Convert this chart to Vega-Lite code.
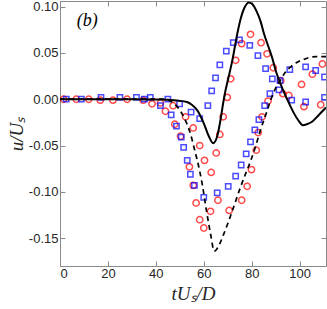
{
  "$schema": "https://vega.github.io/schema/vega-lite/v6.json",
  "width": 266,
  "height": 265,
  "autosize": {"type": "none"},
  "padding": {"left": 60, "top": 1, "right": 1, "bottom": 43},
  "background": "white",
  "config": {
    "view": {"stroke": "#8a8a8a", "strokeWidth": 1},
    "axis": {
      "grid": false,
      "domain": false,
      "tickColor": "#8a8a8a",
      "tickSize": -5,
      "labelFont": "Liberation Sans",
      "labelFontSize": 13,
      "labelColor": "#262626",
      "titleFont": "Liberation Serif",
      "titleFontStyle": "italic",
      "titleFontWeight": "normal",
      "titleFontSize": 19,
      "titleColor": "#262626"
    }
  },
  "datasets": {
    "circles": [
      {"t":1.5,"u":0},{"t":6.8,"u":0},{"t":12.0,"u":0},{"t":16.8,"u":-0.001},{"t":22.1,"u":-0.001},{"t":28.0,"u":0},{"t":34.7,"u":-0.001},{"t":38.4,"u":-0.005},{"t":41.9,"u":-0.004},{"t":44.0,"u":-0.013},{"t":47.2,"u":-0.007},{"t":47.9,"u":-0.027},{"t":50.3,"u":-0.040},{"t":52.4,"u":-0.019},{"t":54.0,"u":-0.073},{"t":55.6,"u":-0.031},{"t":55.6,"u":-0.093},{"t":56.8,"u":-0.112},{"t":58.3,"u":-0.050},{"t":58.3,"u":-0.130},{"t":60.0,"u":-0.139},{"t":60.3,"u":-0.066},{"t":63.1,"u":-0.079},{"t":62.8,"u":-0.121},{"t":65.2,"u":-0.058},{"t":65.9,"u":-0.109},{"t":66.7,"u":-0.038},{"t":68.1,"u":-0.019},{"t":69.8,"u":0.002},{"t":70.6,"u":-0.120},{"t":71.2,"u":0.022},{"t":73.3,"u":0.042},{"t":75.8,"u":0.060},{"t":75.8,"u":-0.109},{"t":78.1,"u":-0.094},{"t":79.5,"u":0.070},{"t":79.9,"u":-0.076},{"t":81.9,"u":-0.055},{"t":82.7,"u":-0.036},{"t":83.9,"u":0.061},{"t":84.3,"u":-0.019},{"t":86.4,"u":0.049},{"t":86.8,"u":-0.002},{"t":89.0,"u":0.034},{"t":92.1,"u":0.020},{"t":93.0,"u":0.006},{"t":95.5,"u":0.004},{"t":100.8,"u":0.016},{"t":101.8,"u":-0.008},{"t":105.3,"u":0.027},{"t":108.8,"u":-0.006},{"t":109.5,"u":0.038}
    ],
    "squares": [
      {"t":2.6,"u":0},{"t":8.9,"u":0},{"t":17.1,"u":0.002},{"t":25.0,"u":0.002},{"t":31.9,"u":0.002},{"t":35.2,"u":0},{"t":37.7,"u":0.002},{"t":41.9,"u":-0.007},{"t":45.0,"u":0},{"t":46.4,"u":-0.017},{"t":48.6,"u":-0.029},{"t":49.9,"u":-0.005},{"t":50.6,"u":-0.041},{"t":51.6,"u":-0.052},{"t":53.1,"u":-0.066},{"t":54.4,"u":-0.081},{"t":54.7,"u":-0.014},{"t":56.1,"u":-0.093},{"t":58.3,"u":-0.021},{"t":60.0,"u":-0.106},{"t":61.7,"u":-0.007},{"t":63.3,"u":0.009},{"t":64.9,"u":0.023},{"t":65.6,"u":-0.101},{"t":66.7,"u":0.037},{"t":69.4,"u":0.052},{"t":70.2,"u":-0.094},{"t":72.3,"u":0.061},{"t":73.3,"u":-0.083},{"t":74.9,"u":0.064},{"t":75.6,"u":-0.071},{"t":77.7,"u":-0.059},{"t":79.2,"u":0.058},{"t":79.5,"u":-0.046},{"t":81.3,"u":-0.033},{"t":82.6,"u":0.047},{"t":83.0,"u":-0.022},{"t":85.4,"u":-0.007},{"t":85.8,"u":0.033},{"t":87.6,"u":0.006},{"t":88.6,"u":0.022},{"t":91.4,"u":0.010},{"t":91.8,"u":0.020},{"t":95.9,"u":0.032},{"t":96.7,"u":-0.001},{"t":102.5,"u":0.035},{"t":102.5,"u":-0.003},{"t":106.7,"u":0.031},{"t":110.4,"u":0.024},{"t":110.4,"u":0.002}
    ],
    "solid": [
      {"t":0,"u":0},{"t":30,"u":0},{"t":40,"u":-0.0003},{"t":45,"u":-0.0005},{"t":49,"u":-0.0015},{"t":53,"u":-0.003},{"t":55,"u":-0.006},{"t":57.3,"u":-0.012},{"t":60,"u":-0.026},{"t":62.1,"u":-0.040},{"t":63.9,"u":-0.0475},{"t":65.6,"u":-0.040},{"t":67,"u":-0.022},{"t":68.1,"u":-0.004},{"t":69.1,"u":0.010},{"t":70,"u":0.020},{"t":72,"u":0.043},{"t":74,"u":0.071},{"t":75.5,"u":0.088},{"t":77,"u":0.099},{"t":78.8,"u":0.1045},{"t":80.5,"u":0.102},{"t":82,"u":0.095},{"t":83.7,"u":0.084},{"t":85.1,"u":0.071},{"t":87.2,"u":0.055},{"t":88.5,"u":0.045},{"t":90,"u":0.031},{"t":91.35,"u":0.021},{"t":93.4,"u":0.008},{"t":95.5,"u":-0.004},{"t":97.6,"u":-0.015},{"t":99.5,"u":-0.023},{"t":101.3,"u":-0.028},{"t":103,"u":-0.027},{"t":105.3,"u":-0.024},{"t":108,"u":-0.017},{"t":111,"u":-0.009}
    ],
    "dashed": [
      {"t":0,"u":0},{"t":44,"u":0},{"t":46,"u":-0.002},{"t":48.9,"u":-0.008},{"t":51.6,"u":-0.019},{"t":54.4,"u":-0.037},{"t":56.5,"u":-0.058},{"t":57.2,"u":-0.065},{"t":59.3,"u":-0.091},{"t":61.1,"u":-0.120},{"t":62.8,"u":-0.145},{"t":64.4,"u":-0.164},{"t":65.6,"u":-0.161},{"t":68.4,"u":-0.145},{"t":72.5,"u":-0.116},{"t":75.3,"u":-0.095},{"t":77.2,"u":-0.082},{"t":79.5,"u":-0.067},{"t":81.6,"u":-0.051},{"t":83.7,"u":-0.033},{"t":86.5,"u":-0.012},{"t":87.9,"u":-0.001},{"t":90,"u":0.012},{"t":92.1,"u":0.021},{"t":94,"u":0.029},{"t":96.3,"u":0.035},{"t":99,"u":0.040},{"t":101.8,"u":0.043},{"t":104,"u":0.045},{"t":107,"u":0.046},{"t":111,"u":0.046}
    ],
    "label": [{"t":11.4,"u":0.0846,"txt":"(b)"}]
  },
  "layer": [
    {
      "data": {"name": "circles"},
      "mark": {"type": "point", "shape": "circle", "filled": false, "stroke": "#ff0000", "strokeWidth": 1.5, "size": 40, "clip": true},
      "encoding": {
        "x": {"field": "t", "type": "quantitative", "scale": {"domain": [0, 111], "nice": false, "zero": false},
              "axis": {"orient": "bottom", "values": [0,20,40,60,80,100], "title": "tUₛ/D", "labelPadding": 6, "titlePadding": 4}},
        "y": {"field": "u", "type": "quantitative", "scale": {"domain": [-0.18, 0.106], "nice": false, "zero": false},
              "axis": {"orient": "left", "values": [-0.15,-0.1,-0.05,0,0.05,0.1], "title": "u/Uₛ", "labelPadding": 7, "titlePadding": 2,
                       "labelExpr": "datum.value < 0 ? '-' + format(-datum.value, '.2f') : format(datum.value, '.2f')"}}
      }
    },
    {
      "data": {"name": "squares"},
      "mark": {"type": "point", "shape": "square", "filled": false, "stroke": "#0000ff", "strokeWidth": 1.5, "size": 28, "clip": true},
      "encoding": {
        "x": {"field": "t", "type": "quantitative", "axis": {"orient": "top", "values": [0,20,40,60,80,100], "labels": false, "title": null}},
        "y": {"field": "u", "type": "quantitative", "axis": {"orient": "right", "values": [-0.15,-0.1,-0.05,0,0.05,0.1], "labels": false, "title": null}}
      }
    },
    {
      "data": {"name": "solid"},
      "mark": {"type": "line", "color": "#000000", "strokeWidth": 2, "interpolate": "monotone", "clip": true},
      "encoding": {
        "x": {"field": "t", "type": "quantitative", "axis": null},
        "y": {"field": "u", "type": "quantitative", "axis": null}
      }
    },
    {
      "data": {"name": "dashed"},
      "mark": {"type": "line", "color": "#000000", "strokeWidth": 1.7, "strokeDash": [5, 4], "interpolate": "monotone", "clip": true},
      "encoding": {
        "x": {"field": "t", "type": "quantitative", "axis": null},
        "y": {"field": "u", "type": "quantitative", "axis": null}
      }
    },
    {
      "data": {"name": "label"},
      "mark": {"type": "text", "font": "Liberation Serif", "fontStyle": "italic", "fontSize": 18, "color": "#000000", "align": "center", "baseline": "middle"},
      "encoding": {
        "x": {"field": "t", "type": "quantitative", "axis": null},
        "y": {"field": "u", "type": "quantitative", "axis": null},
        "text": {"field": "txt"}
      }
    }
  ],
  "resolve": {"axis": {"x": "independent", "y": "independent"}}
}
